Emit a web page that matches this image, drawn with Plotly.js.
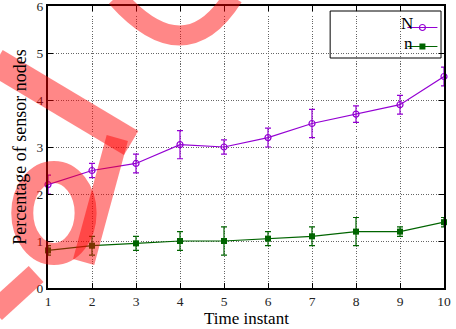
<!DOCTYPE html>
<html>
<head>
<meta charset="utf-8">
<script src="https://cdn.plot.ly/plotly-3.0.1.min.js"></script>
<style>html,body{margin:0;padding:0;background:#fff;}#chart{width:456px;height:329px;}</style>
</head>
<body>
<div id="chart"></div>
<script>
// ---- data ----
const timeInstants = [1, 2, 3, 4, 5, 6, 7, 8, 9, 10];
const seriesN = [2.2, 2.5, 2.65, 3.05, 3.0, 3.2, 3.5, 3.7, 3.9, 4.5];
const seriesNErr = [0.2, 0.15, 0.2, 0.3, 0.15, 0.2, 0.3, 0.175, 0.2, 0.2];
const seriesSmallN = [0.8, 0.9, 0.95, 1.0, 1.0, 1.05, 1.1, 1.2, 1.2, 1.4];
const seriesSmallNErr = [0.1, 0.2, 0.15, 0.2, 0.3, 0.15, 0.2, 0.3, 0.1, 0.1];
const yTicks = [0, 1, 2, 3, 4, 5, 6];

const purple = '#9400d3';
const green = '#006400';

// plot-area geometry (px) used only for decoration placement
const L = 48, R = 448, T = 6, B = 288;
const px = x => (x - L) / (R - L);
const py = y => (B - y) / (B - T);
const P = (x, y) => px(x).toFixed(4) + ',' + py(y).toFixed(4);

const traces = [
  {
    x: timeInstants, y: seriesN, name: ' ', type: 'scatter', mode: 'lines+markers',
    legendgroup: 'g',
    line: {color: purple, width: 1.2},
    marker: {symbol: 'circle-open', size: 6, color: purple, line: {width: 1.2, color: purple}},
    error_y: {type: 'data', array: seriesNErr, visible: true, color: purple, thickness: 1.2, width: 3},
    cliponaxis: false
  },
  {
    x: timeInstants, y: seriesSmallN, name: ' ', type: 'scatter', mode: 'lines+markers',
    legendgroup: 'g',
    line: {color: green, width: 1.2},
    marker: {symbol: 'square', size: 6, color: green},
    error_y: {type: 'data', array: seriesSmallNErr, visible: true, color: green, thickness: 1.2, width: 3},
    cliponaxis: false
  }
];

const wm = 'rgba(255,0,0,0.47)';
const shapes = [
  // legend box
  {type: 'rect', xref: 'paper', yref: 'paper', x0: px(333), x1: px(445), y0: py(11), y1: py(58),
   line: {color: '#000', width: 1}, fillcolor: 'rgba(255,255,255,1)', layer: 'below'},
  // watermark strokes
  {type: 'path', xref: 'paper', yref: 'paper', layer: 'above',
   path: 'M' + P(117, -3) + ' Q' + P(186, 74) + ' ' + P(235, -3),
   line: {color: wm, width: 20}},
  {type: 'line', xref: 'paper', yref: 'paper', layer: 'above',
   x0: px(-5), y0: py(62), x1: px(132), y1: py(143), line: {color: wm, width: 28}},
  {type: 'circle', xref: 'paper', yref: 'paper', layer: 'above',
   x0: px(22), x1: px(86), y0: py(172), y1: py(254), line: {color: wm, width: 22}},
  {type: 'line', xref: 'paper', yref: 'paper', layer: 'above',
   x0: px(118), y0: py(138), x1: px(84), y1: py(262), line: {color: wm, width: 22}},
  {type: 'line', xref: 'paper', yref: 'paper', layer: 'above',
   x0: px(36), y0: py(274), x1: px(-6), y1: py(312), line: {color: wm, width: 22}}
];

const annotations = [
  {xref: 'paper', yref: 'paper', x: px(419), y: py(24), xanchor: 'right', yanchor: 'middle',
   text: 'N', showarrow: false, font: {family: 'Liberation Serif', size: 17, color: '#000'}},
  {xref: 'paper', yref: 'paper', x: px(419), y: py(44), xanchor: 'right', yanchor: 'middle',
   text: 'n', showarrow: false, font: {family: 'Liberation Serif', size: 17, color: '#000'}},
  {xref: 'paper', yref: 'paper', x: 0.5, y: py(318), xanchor: 'center', yanchor: 'middle',
   text: 'Time instant', showarrow: false, font: {family: 'Liberation Serif', size: 17, color: '#000'}}
];

const axisCommon = {
  showline: true, linecolor: '#000', linewidth: 2, mirror: 'ticks',
  ticks: 'inside', ticklen: 5, tickcolor: '#000', tickwidth: 1,
  showgrid: true, gridcolor: '#666', griddash: '1px,1.5px', gridwidth: 1,
  zeroline: false, ticklabeloverflow: 'allow',
  tickfont: {family: 'Liberation Serif', size: 13.5, color: '#222'}
};

const layout = {
  width: 456, height: 329,
  margin: {l: 48, r: 8, t: 6, b: 41},
  paper_bgcolor: '#fff', plot_bgcolor: '#fff',
  font: {family: 'Liberation Serif', color: '#000'},
  showlegend: true,
  legend: {x: px(406), y: py(13), xanchor: 'left', yanchor: 'top', bgcolor: 'rgba(0,0,0,0)',
           borderwidth: 0, font: {family: 'Liberation Serif', size: 10}, tracegroupgap: 0},
  xaxis: Object.assign({}, axisCommon, {
    range: [1, 10], tickmode: 'array', tickvals: timeInstants, ticktext: timeInstants.map(String)
  }),
  yaxis: Object.assign({}, axisCommon, {
    range: [0, 6], tickmode: 'array', tickvals: yTicks, ticktext: yTicks.map(String),
    title: {text: 'Percentage of sensor nodes', font: {family: 'Liberation Serif', size: 18, color: '#000'}, standoff: 5}
  }),
  shapes: shapes,
  annotations: annotations
};

Plotly.newPlot('chart', traces, layout, {staticPlot: true, displayModeBar: false});
</script>
</body>
</html>
